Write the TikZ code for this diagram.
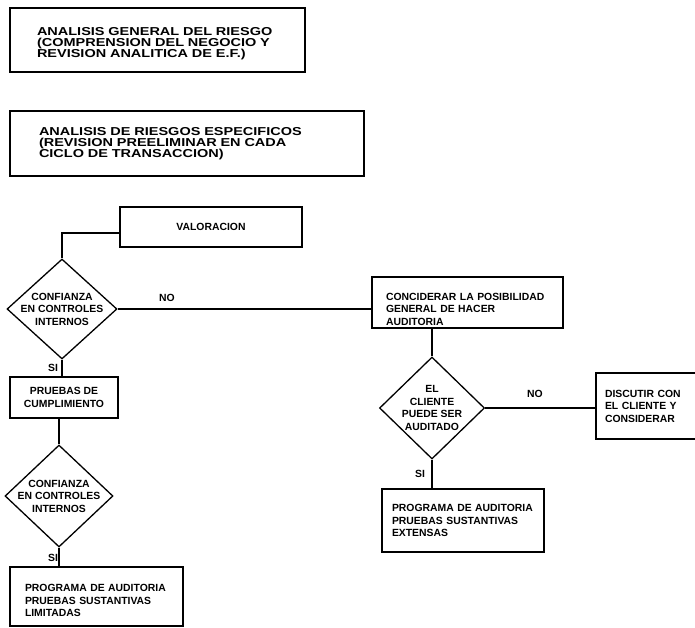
\documentclass[tikz,border=0pt]{standalone}
\usepackage{fontspec}
\setmainfont{Liberation Sans}
\newfontfamily\widefont{Liberation Sans}[FakeStretch=1.26]
\usetikzlibrary{positioning, shapes.geometric, calc}
\newcommand\headfont{\widefont\bfseries\fontsize{11.5}{11}\selectfont}
\newcommand\flowfont{\bfseries\fontsize{10.4}{12.5}\selectfont}
\tikzset{
  every picture/.style={x=1pt, y=-1pt, line width=1.1pt},
  box/.style={draw, line width=1.4pt, inner sep=0pt, align=left, font=\flowfont},
  decision/.style={diamond, draw, line width=1.3pt, inner sep=0pt},
  dtext/.style={align=center, inner sep=0pt, font=\flowfont},
  tag/.style={inner sep=0pt, font=\flowfont},
}
\begin{document}
\begin{tikzpicture}
  \useasboundingbox (0,0) rectangle (695,628);
  % analisis
  \node[box, font=\headfont, minimum width=295pt, minimum height=64pt, text width=241pt, text height=16.3pt] (general) at (157.5,40) {ANALISIS GENERAL DEL RIESGO\\(COMPRENSION DEL NEGOCIO Y\\REVISION ANALITICA DE E.F.)};
  \node[box, font=\headfont, minimum width=354pt, minimum height=65pt, text width=296pt] (especif) at (187,143.5) {ANALISIS DE RIESGOS ESPECIFICOS\\(REVISION PREELIMINAR EN CADA\\CICLO DE TRANSACCION)};
  % left branch
  \node[box, align=center, minimum width=182pt, minimum height=40pt] (valor) at (211,227) {VALORACION};
  \node[decision, minimum width=110pt, minimum height=100pt] (conf1) at (62,309) {};
  \node[dtext] (conf1t) at (conf1) {CONFIANZA\\EN CONTROLES\\INTERNOS};
  \node[box, align=center, minimum width=108pt, minimum height=41pt] (pruebas) at (64,397.5) {PRUEBAS DE\\CUMPLIMIENTO};
  \node[decision, minimum width=108pt, minimum height=102pt] (conf2) at (59,496) {};
  \node[dtext] (conf2t) at (conf2) {CONFIANZA\\EN CONTROLES\\INTERNOS};
  \node[box, minimum width=173pt, minimum height=59pt, text width=143pt, text height=15.5pt] (limitadas) at (96.5,596.5) {PROGRAMA DE AUDITORIA\\PRUEBAS SUSTANTIVAS\\LIMITADAS};
  % right branch
  \node[box, minimum width=191pt, minimum height=51pt, text width=163pt, text height=20.5pt] (concid) at (467.5,302.5) {CONCIDERAR LA POSIBILIDAD\\GENERAL DE HACER\\AUDITORIA};
  \node[decision, minimum width=105pt, minimum height=102pt] (clien) at (432,408) {};
  \node[dtext] (cliet) at (clien) {EL\\CLIENTE\\PUEDE SER\\AUDITADO};
  \node[box, minimum width=124pt, minimum height=66pt, text width=106pt] (discut) at (658,406) {DISCUTIR CON\\EL CLIENTE Y\\CONSIDERAR};
  \node[box, minimum width=162pt, minimum height=63pt, text width=142pt] (extensas) at (463,520.5) {PROGRAMA DE AUDITORIA\\PRUEBAS SUSTANTIVAS\\EXTENSAS};
  % si / no
  \foreach \t/\px/\py [count=\k] in {NO/167/298, SI/53/368, SI/53/558, NO/535/394, SI/420/474}
    \node[tag] (tag\k) at (\px,\py) {\t};
  % connectors
  \draw ([yshift=-6pt]valor.west) -| (conf1.north);
  \draw (conf1.east) -- (conf1.east -| concid.west);
  \draw (conf1.south) -- (conf1.south |- pruebas.north);
  \draw (conf2.north |- pruebas.south) -- (conf2.north);
  \draw (conf2.south) -- (conf2.south |- limitadas.north);
  \draw (clien.north |- concid.south) -- (clien.north);
  \draw (clien.east) -- (clien.east -| discut.west);
  \draw (clien.south) -- (clien.south |- extensas.north);
\end{tikzpicture}
\end{document}
